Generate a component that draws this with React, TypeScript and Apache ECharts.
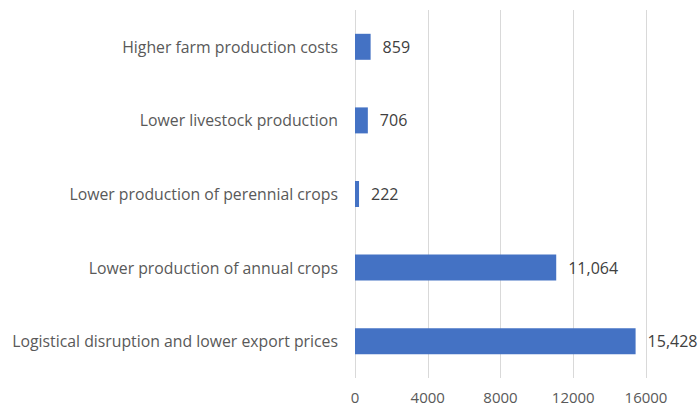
import React, { useEffect, useRef } from "react";
import * as echarts from "echarts";

const categories = [
  "Logistical disruption and lower export prices",
  "Lower production of annual crops",
  "Lower production of perennial crops",
  "Lower livestock production",
  "Higher farm production costs",
];
const values = [15428, 11064, 222, 706, 859];
const xTicks = [0, 4000, 8000, 12000, 16000];

export default function App() {
  const ref = useRef<HTMLDivElement>(null);
  useEffect(() => {
    const chart = echarts.init(ref.current!, undefined, { renderer: "svg" });
    chart.setOption({
      animation: false,
      grid: { left: 355, right: 53, top: 10, bottom: 29, containLabel: false },
      xAxis: {
        type: "value",
        min: xTicks[0],
        max: xTicks[xTicks.length - 1],
        interval: 4000,
        axisLine: { show: false },
        axisTick: { show: false },
        splitLine: { show: true, lineStyle: { color: "#d9d9d9", width: 1 } },
        axisLabel: {
          color: "#595959",
          fontSize: 15,
          lineHeight: 16,
          fontFamily: "Open Sans",
          margin: 11,
          formatter: (v: number) => String(v),
        },
      },
      yAxis: {
        type: "category",
        data: categories,
        axisLine: { show: false },
        axisTick: { show: false },
        axisLabel: {
          color: "#595959",
          fontSize: 15.8,
          fontFamily: "Open Sans",
          margin: 17,
        },
      },
      series: [
        {
          type: "bar",
          data: values,
          barWidth: 26,
          itemStyle: { color: "#4472C4" },
          label: {
            show: true,
            position: "right",
            distance: 12,
            color: "#404040",
            fontSize: 16,
            fontFamily: "Open Sans",
            formatter: (p: any) => Number(p.value).toLocaleString("en-US"),
          },
        },
      ],
    });
    return () => chart.dispose();
  }, []);
  return <div ref={ref} style={{ width: 699, height: 407, position: "absolute", left: 0, top: 0 }} />;
}
